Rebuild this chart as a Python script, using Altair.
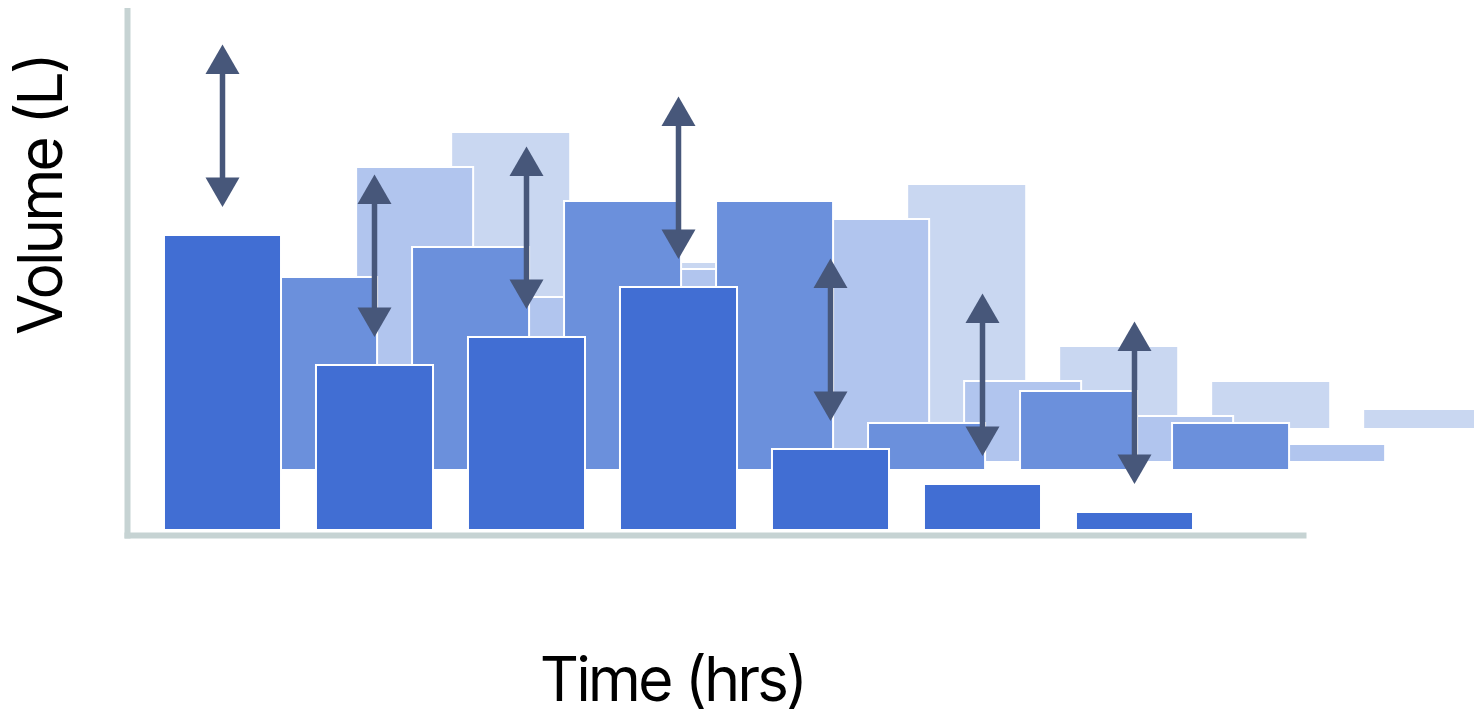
import altair as alt
import pandas as pd

# ---------------- data ----------------
hours = [1, 2, 3, 4, 5, 6, 7]
# front series (also repeated as the two palest "ghost" layers)
volume = [29.5, 16.5, 19.3, 24.3, 8.1, 4.6, 1.8]
# second (medium blue) series
volume_b = [19.3, 22.3, 26.9, 26.9, 4.7, 7.9, 4.7]

layer_names = ["D", "C", "B", "A"]            # back to front
layer_series = {"A": volume, "B": volume_b, "C": volume, "D": volume}
layer_base = {"A": 0.5, "B": 6.5, "C": 7.3, "D": 10.7}
layer_shift = {"A": 0, "B": 1, "C": 2, "D": 3}
layer_color = {"A": "#416ed3", "B": "#6b90dc", "C": "#b1c5ee", "D": "#c9d7f1"}

# ---------------- layout constants ----------------
HALF_W = 0.385        # half bar width (hours)
SHIFT = 0.632         # horizontal shift between layers (hours)
X_DOMAIN = [0.3717, 8.1086]
Y_DOMAIN = [0, 52.7]
ARROW_LO = 2.8
ARROW_HI = 19.05
HEAD = 2.9
AXIS_COLOR = "#c6d3d3"
ARROW_COLOR = "#47577a"
FONT = "'Inter Tight', 'Inter Display', Inter"
FONT_SIZE = 61

rows = []
for name in layer_names:
    for h, v in zip(hours, layer_series[name]):
        base = layer_base[name]
        c = h + layer_shift[name] * SHIFT
        rows.append({"layer": name, "hour": h, "x0": c - HALF_W, "x1": c + HALF_W,
                     "y0": base, "y1": base + v})
bars_df = pd.DataFrame(rows)

front_top = [layer_base["A"] + v for v in volume]
arrow_df = pd.DataFrame({
    "hour": hours,
    "lo": [t + ARROW_LO for t in front_top],
    "hi": [t + ARROW_HI for t in front_top],
})
arrow_df["shaft_lo"] = arrow_df["lo"] + HEAD
arrow_df["shaft_hi"] = arrow_df["hi"] - HEAD

xs = alt.Scale(domain=X_DOMAIN, nice=False, zero=False)
ys = alt.Scale(domain=Y_DOMAIN, nice=False, zero=False)

x_axis = alt.Axis(title="Time (hrs)", labels=False, ticks=False, grid=False,
                  domainColor=AXIS_COLOR, domainWidth=6, domainCap="square",
                  titleFont=FONT, titleFontSize=FONT_SIZE, titleFontWeight="normal",
                  titleColor="#000000", titleX=546.5, titleY=165,
                  titleAlign="center", titleBaseline="alphabetic")
y_axis = alt.Axis(title="Volume (L)", labels=False, ticks=False, grid=False,
                  domainColor=AXIS_COLOR, domainWidth=6, domainCap="square",
                  titleFont=FONT, titleFontSize=FONT_SIZE, titleFontWeight="normal",
                  titleColor="#000000", titleAngle=270, titleX=-65.5, titleY=185,
                  titleAlign="center", titleBaseline="alphabetic")

layers = []
for name in layer_names:
    d = bars_df[bars_df["layer"] == name]
    if name == "D":
        mk = alt.Chart(d).mark_rect(color=layer_color[name])
    else:
        mk = alt.Chart(d).mark_rect(color=layer_color[name], stroke="#ffffff", strokeWidth=2)
    layers.append(mk.encode(
        x=alt.X("x0:Q", scale=xs, axis=x_axis),
        x2="x1:Q",
        y=alt.Y("y1:Q", scale=ys, axis=y_axis),
        y2="y0:Q",
    ))

shaft = alt.Chart(arrow_df).mark_rule(color=ARROW_COLOR, strokeWidth=5.5).encode(
    x=alt.X("hour:Q", scale=xs, axis=x_axis),
    y=alt.Y("shaft_lo:Q", scale=ys, axis=y_axis),
    y2="shaft_hi:Q",
)
head_up = alt.Chart(arrow_df).mark_point(
    shape="M0,0L1,1.732L-1,1.732Z", filled=True, size=1156,
    color=ARROW_COLOR, opacity=1, strokeWidth=0
).encode(
    x=alt.X("hour:Q", scale=xs, axis=x_axis),
    y=alt.Y("hi:Q", scale=ys, axis=y_axis),
)
head_down = alt.Chart(arrow_df).mark_point(
    shape="M0,0L1,-1.732L-1,-1.732Z", filled=True, size=1156,
    color=ARROW_COLOR, opacity=1, strokeWidth=0
).encode(
    x=alt.X("hour:Q", scale=xs, axis=x_axis),
    y=alt.Y("lo:Q", scale=ys, axis=y_axis),
)

chart = alt.layer(*layers, shaft, head_up, head_down).properties(
    width=1176, height=527,
    autosize=alt.AutoSizeParams(type="none"),
    padding={"left": 119, "top": 0, "right": 171, "bottom": 175},
).configure_view(strokeWidth=0)

chart.save("out.html", embed_options={"renderer": "svg", "actions": False})
